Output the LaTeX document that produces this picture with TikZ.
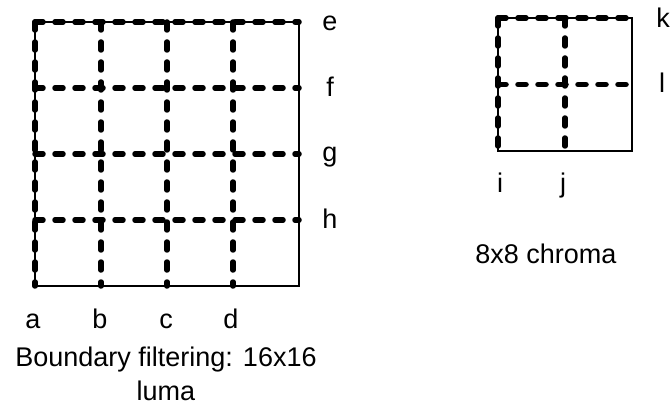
\documentclass[tikz,border=0pt]{standalone}
\usepackage{fontspec}
\setmainfont{Liberation Sans}
\begin{document}
\begin{tikzpicture}[x=1pt,y=-1pt,
  outline/.style={line width=2.2pt},
  gridline/.style={line width=5.5pt, line cap=round, dash pattern=on 8pt off 12pt},
  lbl/.style={font=\fontsize{27}{32}\selectfont, inner sep=0pt, anchor=base}]
\useasboundingbox (0,0) rectangle (672,406);
% big 16x16 luma block
\coordinate (L1) at (35,22);
\coordinate (L2) at (299,286);
\draw[outline] (L1) rectangle (L2);
\foreach \x in {35,101,167,233} \draw[gridline] (\x,22) -- (\x,286);
\foreach \y in {22,88,154,220} \draw[gridline] (35,\y) -- (299,\y);
% small 8x8 chroma block
\coordinate (C1) at (498,18);
\coordinate (C2) at (632,151);
\draw[outline] (C1) rectangle (C2);
\foreach \x in {498,565} \draw[gridline] (\x,18) -- (\x,151);
\foreach \y in {18,84.5} \draw[gridline] (498,\y) -- (632,\y);
% labels
\node[lbl] (e) at (330,30.5) {e};
\node[lbl] (f) at (330,97) {f};
\node[lbl] (g) at (330,162) {g};
\node[lbl] (h) at (330,229) {h};
\node[lbl] (a) at (33,328) {a};
\node[lbl] (b) at (100,328) {b};
\node[lbl] (c) at (166,328) {c};
\node[lbl] (d) at (231,328) {d};
\node[lbl] (cap1) at (166,366) {Boundary filtering: 16x16};
\node[lbl] (cap2) at (166,400) {luma};
\node[lbl] (k) at (663,28) {k};
\node[lbl] (l) at (662,93) {l};
\node[lbl] (i) at (500,193) {i};
\node[lbl] (j) at (563,193) {j};
\node[lbl] (chroma) at (546,263) {8x8 chroma};
\end{tikzpicture}
\end{document}
